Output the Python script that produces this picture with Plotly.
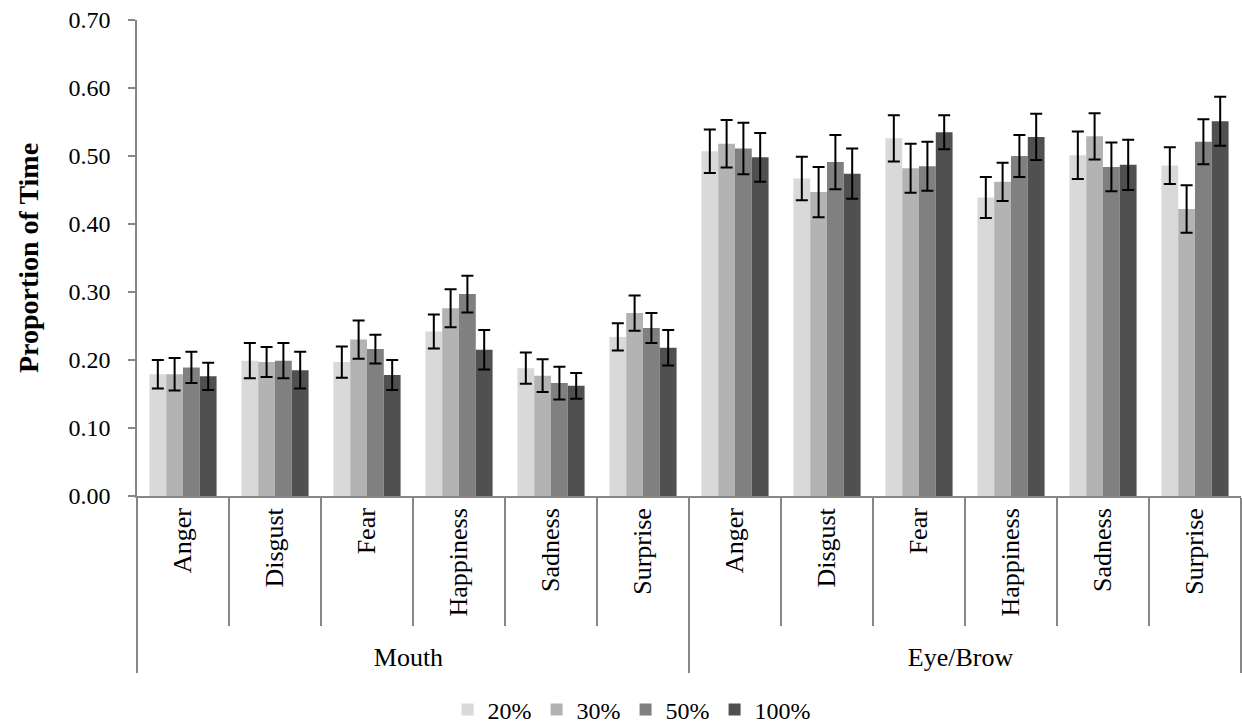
import plotly.graph_objects as go

regions = ["Mouth"] * 6 + ["Eye/Brow"] * 6
emotions = ["Anger", "Disgust", "Fear", "Happiness", "Sadness", "Surprise"] * 2

series_names = ["20%", "30%", "50%", "100%"]
vals_20 = [0.179, 0.199, 0.197, 0.242, 0.188, 0.234, 0.507, 0.467, 0.526, 0.439, 0.501, 0.486]
vals_30 = [0.179, 0.197, 0.230, 0.276, 0.177, 0.269, 0.518, 0.447, 0.482, 0.462, 0.529, 0.422]
vals_50 = [0.189, 0.199, 0.216, 0.297, 0.166, 0.247, 0.511, 0.491, 0.485, 0.500, 0.484, 0.521]
vals_100 = [0.176, 0.185, 0.178, 0.215, 0.162, 0.218, 0.498, 0.474, 0.535, 0.528, 0.487, 0.551]
err_20 = [0.021, 0.026, 0.023, 0.025, 0.023, 0.020, 0.032, 0.032, 0.034, 0.030, 0.035, 0.027]
err_30 = [0.024, 0.022, 0.028, 0.028, 0.024, 0.026, 0.035, 0.037, 0.036, 0.028, 0.034, 0.035]
err_50 = [0.023, 0.026, 0.021, 0.027, 0.024, 0.022, 0.038, 0.040, 0.036, 0.031, 0.036, 0.033]
err_100 = [0.020, 0.027, 0.022, 0.029, 0.019, 0.026, 0.036, 0.037, 0.025, 0.034, 0.037, 0.036]

y_tick_values = [0.0, 0.1, 0.2, 0.3, 0.4, 0.5, 0.6, 0.7]
y_tick_labels = ["0.00", "0.10", "0.20", "0.30", "0.40", "0.50", "0.60", "0.70"]

values = [vals_20, vals_30, vals_50, vals_100]
errors = [err_20, err_30, err_50, err_100]
colors = ["#d9d9d9", "#b3b3b3", "#808080", "#505050"]

FONT = "Liberation Serif, Times New Roman, serif"
AXIS_COLOR = "#868686"

fig = go.Figure()
for name, v, e, c in zip(series_names, values, errors, colors):
    fig.add_trace(go.Bar(
        x=[regions, emotions], y=v, name=name,
        marker=dict(color=c, line=dict(width=0)),
        error_y=dict(type="data", array=e, visible=True, color="black",
                     thickness=2, width=6),
    ))

fig.update_layout(
    width=1242, height=725,
    barmode="group", bargap=0.27, bargroupgap=0,
    plot_bgcolor="white", paper_bgcolor="white",
    margin=dict(l=137, r=1, t=20, b=229, autoexpand=False),
    font=dict(family=FONT, size=24, color="black"),
    showlegend=True,
    legend=dict(orientation="h", x=0.448, xanchor="center",
                yref="container", y=0.021, yanchor="middle",
                font=dict(size=24), itemwidth=30, tracegroupgap=0),
)
fig.update_yaxes(
    range=[0, 0.70], tickmode="array", tickvals=y_tick_values, ticktext=y_tick_labels,
    showgrid=False, zeroline=False, automargin=False,
    showline=True, linecolor=AXIS_COLOR, linewidth=1.5,
    ticks="outside", ticklen=7, tickcolor=AXIS_COLOR, tickwidth=1.5,
    tickfont=dict(size=24), ticklabelstandoff=13,
    title=dict(text="<b>Proportion of Time</b>", font=dict(size=28), standoff=22),
)
fig.update_xaxes(
    type="multicategory", tickangle=-90, automargin=False,
    showgrid=False, showline=True, linecolor=AXIS_COLOR, linewidth=1.5,
    ticks="outside", ticklen=128, tickcolor=AXIS_COLOR, tickwidth=1.5,
    tickfont=dict(size=26),
    showdividers=True, dividercolor=AXIS_COLOR, dividerwidth=1.5,
)

fig.write_html("out.html", config={"displayModeBar": False},
               post_script="document.body.style.margin='0';")
